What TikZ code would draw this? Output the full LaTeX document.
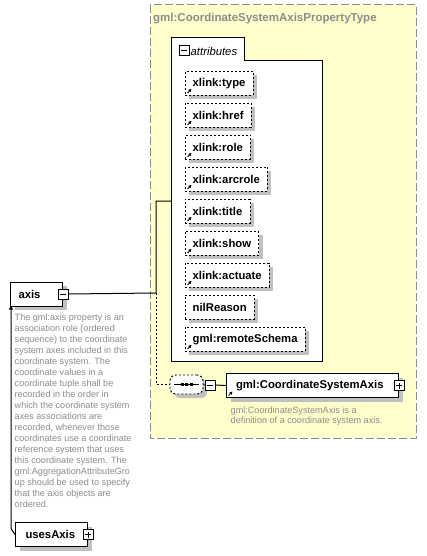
\documentclass[tikz,border=0pt]{standalone}
\usepackage{fontspec}
\setmainfont{Liberation Sans}
\usetikzlibrary{shadows,arrows.meta}
\definecolor{bgyellow}{RGB}{255,255,204}
\definecolor{txtgray}{RGB}{140,140,140}
\definecolor{shadowgray}{RGB}{192,192,192}
\definecolor{framegray}{RGB}{140,140,140}
\begin{document}
\begin{tikzpicture}[x=1pt,y=-1pt,
  shad/.style={drop shadow={shadow xshift=4pt,shadow yshift=-4pt,fill=shadowgray,opacity=1}},
  lbl/.style={font=\fontsize{11.3}{13}\selectfont\bfseries},
  attrbox/.style={lbl,draw,dash pattern=on 2pt off 2pt,fill=white,minimum height=24pt,inner xsep=7.5pt,anchor=north west,shad},
  elbox/.style={lbl,draw,line width=1pt,fill=white,minimum height=24pt,anchor=north west,align=left,shad},
  sqbtn/.style={draw,line width=1pt,fill=white,minimum size=10pt,inner sep=0pt},
  minusbtn/.style={sqbtn,path picture={\draw[line width=1pt] ([xshift=2pt]path picture bounding box.west) -- ([xshift=-2pt]path picture bounding box.east);}},
  plusbtn/.style={sqbtn,path picture={\draw[line width=1pt] ([xshift=2pt]path picture bounding box.west) -- ([xshift=-2pt]path picture bounding box.east) ([yshift=2pt]path picture bounding box.south) -- ([yshift=-2pt]path picture bounding box.north);}},
  desc/.style={text=txtgray,font=\fontsize{9.1}{11}\selectfont,align=left,anchor=north west,inner sep=0pt},
  icon/.style={-{Triangle[length=3pt,width=3pt]},line width=0.9pt},
  conn/.style={line width=1pt},
  dconn/.style={line width=1pt,dash pattern=on 2pt off 2pt}
]
\useasboundingbox (0,0) rectangle (427,556);
\fill[white] (0,0) rectangle (427,556);

% outer complex type frame
\draw[fill=bgyellow,draw=framegray,line width=1pt,dash pattern=on 8pt off 3pt] (150,5) rectangle (416,438);
\node[anchor=west,text=framegray,font=\fontsize{11.5}{13}\selectfont\bfseries,inner sep=0pt] (title) at (153,19) {gml:CoordinateSystemAxisPropertyType};

% attributes group
\draw[fill=white,line width=1pt] (171,38) -- (244,38) -- (244,61) -- (322,61) -- (322,361) -- (171,361) -- cycle;
\node[minusbtn] (attrm) at (184,51) {};
\node[anchor=west,inner sep=0pt,font=\fontsize{11.3}{13}\selectfont\itshape] (attrlbl) at (190.5,51) {attributes};
\coordinate (attrin) at (171,201);

\node[attrbox] (a1) at (185,71) {xlink:type};
\node[attrbox] (a2) at (185,103) {xlink:href};
\node[attrbox] (a3) at (185,135) {xlink:role};
\node[attrbox] (a4) at (185,167) {xlink:arcrole};
\node[attrbox] (a5) at (185,199) {xlink:title};
\node[attrbox] (a6) at (185,231) {xlink:show};
\node[attrbox] (a7) at (185,263) {xlink:actuate};
\node[attrbox] (a8) at (185,295) {nilReason};
\node[attrbox] (a9) at (185,327) {gml:remoteSchema};
\foreach \n in {a1,a2,a3,a4,a5,a6,a7,a9}
  \draw[icon] ([shift={(2.5,-2.5)}]\n.south west) -- ++(4,-4);

% axis element
\node[elbox,text width=36pt,inner xsep=8pt] (axis) at (10,281.5) {axis};
\node[minusbtn] (axm) at (axis.east) {};

% usesAxis element
\node[elbox,text width=52pt,inner xsep=10pt] (uses) at (15,522) {usesAxis};
\node[plusbtn] (usesp) at (uses.east) {};

% sequence compositor
\node[draw,rounded corners=6pt,dash pattern=on 2pt off 2pt,line width=0.9pt,fill=white,minimum width=33pt,minimum height=19pt,inner sep=0pt,shad] (seq) at (186.5,384.5) {};
\draw[line width=1pt] ([xshift=4pt]seq.west) -- ([xshift=-4pt]seq.east);
\foreach \dx in {-4.5,0,4.5}
  \fill ([shift={(\dx-1.5,-1.5)}]seq.center) rectangle ++(3,3);
\node[minusbtn] (seqm) at (210,385) {};

% child element
\node[elbox,text width=153pt,inner xsep=9.5pt] (csa) at (226,373) {gml:CoordinateSystemAxis};
\node[plusbtn] (csap) at (csa.east) {};
\draw[icon] ([shift={(2.5,-2.5)}]csa.south west) -- ++(4,-4);

% connectors
\coordinate (jmid) at (156,293);
\coordinate (jtop) at (156,201);
\draw[conn] (axm.east) -- (jmid) -- (jtop) -- (attrin);
\draw[dconn] (jmid) |- (seq.west);
\draw[conn] (seq.east) -- (seqm.west);
\draw[conn] (seqm.east) -- (csa.west);
\draw[line width=1pt,-{Triangle[length=4pt,width=4pt]}] (uses.west) -- ++(-4,-6) -- ([xshift=1pt,yshift=1pt]axis.south west);

% descriptions
\node[desc] (d1) at (14.5,314) {The gml:axis property is an\\association role (ordered\\sequence) to the coordinate\\system axes included in this\\coordinate system. The\\coordinate values in a\\coordinate tuple shall be\\recorded in the order in\\which the coordinate system\\axes associations are\\recorded, whenever those\\coordinates use a coordinate\\reference system that uses\\this coordinate system. The\\gml:AggregationAttributeGro\\up should be used to specify\\that the axis objects are\\ordered.};
\node[desc,font=\fontsize{9.1}{10}\selectfont] (d2) at (230.5,407) {gml:CoordinateSystemAxis is a\\definition of a coordinate system axis.};
\end{tikzpicture}
\end{document}
